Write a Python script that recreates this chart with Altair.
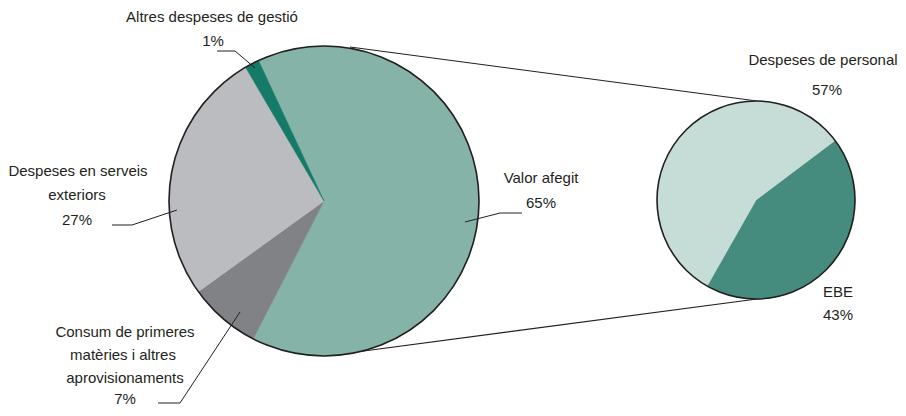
import math
import altair as alt
import pandas as pd

# ---------------- data ----------------
main_names = ["Valor afegit", "Consum de primeres matèries i altres aprovisionaments",
              "Despeses en serveis exteriors", "Altres despeses de gestió"]
main_values = [64.5, 7.5, 26.5, 1.5]
main_colors = ["#85B3A8", "#808285", "#BBBCC0", "#157A68"]
main_center = [324, 201]
main_radius = 155
main_start_deg = 335

sub_names = ["EBE", "Despeses de personal"]
sub_values = [43.5, 56.5]
sub_colors = ["#468C7E", "#C6DCD7"]
sub_center = [756, 200]
sub_radius = 99
sub_start_deg = 53

# label texts (lines) and their anchor points (x, baseline y)
label_texts = ["Altres despeses de gestió", "1%",
               "Despeses en serveis", "exteriors", "27%",
               "Consum de primeres", "matèries i altres", "aprovisionaments", "7%",
               "Valor afegit", "65%",
               "Despeses de personal", "57%",
               "EBE", "43%"]
label_x = [212, 213, 78, 77, 77, 125, 123, 125, 125, 541, 541, 823, 827, 838, 838]
label_y = [22, 46, 176, 200, 225, 337, 360, 383, 404, 183, 208, 65, 95, 297, 320]

# leader lines
leader_id = [1, 1, 1, 2, 2, 2, 3, 3, 3, 4, 4, 4]
leader_seq = [0, 1, 2, 0, 1, 2, 0, 1, 2, 0, 1, 2]
leader_x = [217, 235, 255, 112, 132, 177, 158, 180, 240, 522, 500, 465]
leader_y = [51, 51, 68, 225, 225, 210, 403, 403, 312, 213, 213, 222]

# connector lines between the two pies
conn_x = [350, 360]
conn_y = [47, 351.5]
conn_x2 = [757, 757]
conn_y2 = [101, 299]

# ---------------- tables ----------------
main_df = pd.DataFrame({"name": main_names, "value": main_values, "color": main_colors,
                        "order": list(range(len(main_names))),
                        "cx": main_center[0], "cy": main_center[1]})
sub_df = pd.DataFrame({"name": sub_names, "value": sub_values, "color": sub_colors,
                       "order": list(range(len(sub_names))),
                       "cx": sub_center[0], "cy": sub_center[1]})
labels_df = pd.DataFrame({"t": label_texts, "x": label_x, "y": label_y})
leader_df = pd.DataFrame({"id": leader_id, "seq": leader_seq, "x": leader_x, "y": leader_y})
conn_df = pd.DataFrame({"x": conn_x, "y": conn_y, "x2": conn_x2, "y2": conn_y2})

W, H = 906, 416
xs = alt.Scale(domain=[0, W], nice=False, zero=False)
ys = alt.Scale(domain=[0, H], nice=False, zero=False, reverse=True)
INK = "#231F20"
FONT = "Liberation Sans"


def rad(d):
    return d * math.pi / 180.0


def pie(df, r, start):
    a0 = rad(start)
    return alt.Chart(df).mark_arc(radius=r, strokeWidth=0.6).encode(
        x=alt.X("cx:Q", scale=xs, axis=None),
        y=alt.Y("cy:Q", scale=ys, axis=None),
        theta=alt.Theta("value:Q", stack=True, scale=alt.Scale(range=[a0, a0 + 2 * math.pi])),
        order=alt.Order("order:Q"),
        color=alt.Color("color:N", scale=None, legend=None),
        stroke=alt.Stroke("color:N", scale=None, legend=None),
    )


def outline(center, r):
    df = pd.DataFrame({"cx": [center[0]], "cy": [center[1]]})
    return alt.Chart(df).mark_arc(radius=r, theta=0, theta2=2 * math.pi, fillOpacity=0,
                                  stroke=INK, strokeWidth=1.6).encode(
        x=alt.X("cx:Q", scale=xs, axis=None), y=alt.Y("cy:Q", scale=ys, axis=None))


connectors = alt.Chart(conn_df).mark_rule(color=INK, strokeWidth=1.1).encode(
    x=alt.X("x:Q", scale=xs, axis=None), y=alt.Y("y:Q", scale=ys, axis=None),
    x2="x2:Q", y2="y2:Q")

main_pie = pie(main_df, main_radius, main_start_deg)
sub_pie = pie(sub_df, sub_radius, sub_start_deg)

leaders = alt.Chart(leader_df).mark_line(color=INK, strokeWidth=1).encode(
    x=alt.X("x:Q", scale=xs, axis=None), y=alt.Y("y:Q", scale=ys, axis=None),
    detail="id:N", order="seq:Q")

texts = alt.Chart(labels_df).mark_text(font=FONT, fontSize=15, color=INK,
                                       align="center", baseline="alphabetic").encode(
    x=alt.X("x:Q", scale=xs, axis=None), y=alt.Y("y:Q", scale=ys, axis=None),
    text="t:N")

chart = alt.layer(connectors, main_pie, sub_pie,
                  outline(main_center, main_radius), outline(sub_center, sub_radius),
                  leaders, texts).resolve_scale(
    theta="independent"
).properties(
    width=W, height=H, autosize=alt.AutoSizeParams(type="none"),
    padding={"left": -8, "top": -8, "right": -8, "bottom": -8},
    background="white"
).configure_view(stroke=None)

chart.save("out.html", embed_options={"renderer": "svg", "actions": False})
